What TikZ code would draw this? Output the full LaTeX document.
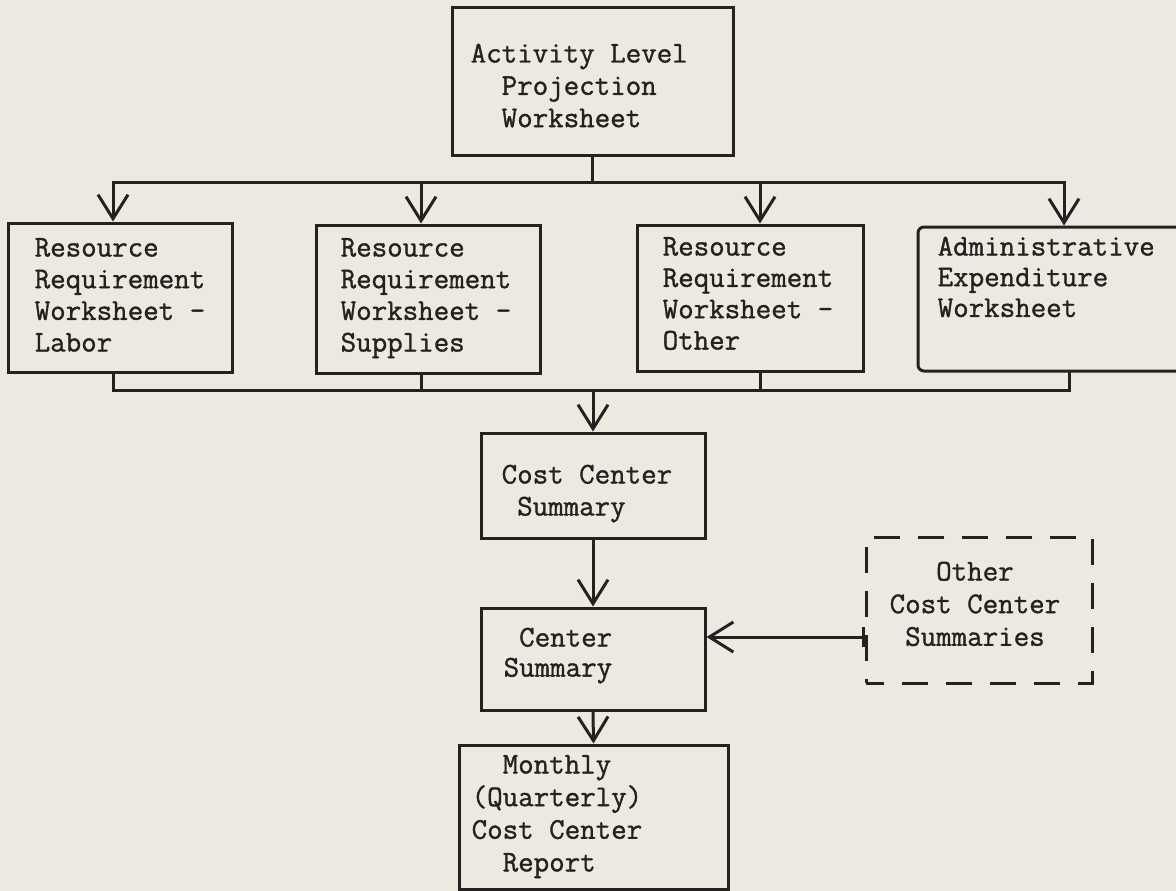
\documentclass[tikz,border=0pt]{standalone}
\usepackage{fontspec}
\newfontfamily\typewriter{Latin Modern Mono}[RawFeature={embolden=1.2}]
\usetikzlibrary{arrows.meta}
\definecolor{paper}{RGB}{236,234,224}
\definecolor{ink}{RGB}{36,34,32}
% stacked lines of a box label; baseline = first line
\newcommand\boxlines[2][1]{\renewcommand\arraystretch{#1}\begin{tabular}[t]{@{}l@{}}#2\end{tabular}}
\newcommand\pad[1]{\hphantom{#1}}

\begin{document}
\begin{tikzpicture}[x=1pt,y=-1pt,
  box/.style={draw=ink, line width=3pt, rectangle, inner sep=0pt},
  dashbox/.style={box, dash pattern=on 26pt off 18pt, dash phase=8pt},
  txt/.style={inner sep=0pt, anchor=base west, text=ink,
    font=\typewriter\fontsize{30.1}{32}\selectfont},
  link/.style={draw=ink, line width=3pt, line cap=rect},
  arr/.style={draw=ink, line width=3pt, -{Straight Barb[length=24pt,width=30pt]}}]

\fill[paper] (0,0) rectangle (1176,891);
\useasboundingbox (0,0) rectangle (1176,891);

% boxes
\node[box, minimum width=281pt, minimum height=147pt] (apw) at (592.5,81.5) {};
\node[box, minimum width=224pt, minimum height=149pt] (labor) at (120,297.5) {};
\node[box, minimum width=224pt, minimum height=148pt] (supplies) at (428,299) {};
\node[box, minimum width=226pt, minimum height=146pt] (other) at (750,298) {};
\node[box, minimum width=277pt, minimum height=144pt, rounded corners=6pt] (admin) at (1056.5,299) {};
\node[box, minimum width=224pt, minimum height=105pt] (ccs) at (593,485.5) {};
\node[box, minimum width=224pt, minimum height=102pt] (cs) at (593,659) {};
\node[box, minimum width=269pt, minimum height=144pt] (report) at (593.5,817) {};
\node[dashbox, minimum width=226pt, minimum height=146pt] (others) at (979,610) {};

% box texts
\node[txt] (apw-t) at ([shift={(20,56)}]apw.north west)
  {\boxlines[1.01]{Activity Level\\\pad{xx}Projection\\\pad{xx}Worksheet}};
\node[txt] (labor-t) at ([shift={(28,35)}]labor.north west)
  {\boxlines[0.99]{Resource\\Requirement\\Worksheet -\\Labor}};
\node[txt] (supplies-t) at ([shift={(26,33)}]supplies.north west)
  {\boxlines[0.99]{Resource\\Requirement\\Worksheet -\\Supplies}};
\node[txt] (other-t) at ([shift={(27,32)}]other.north west)
  {\boxlines[0.98]{Resource\\Requirement\\Worksheet -\\Other}};
\node[txt] (admin-t) at ([shift={(21,30)}]admin.north west)
  {\boxlines[0.96]{Administrative\\Expenditure\\Worksheet}};
\node[txt] (ccs-t) at ([shift={(22,52)}]ccs.north west)
  {\boxlines[1.0]{Cost Center\\\pad{x}Summary}};
\node[txt] (cs-t) at ([shift={(24,40)}]cs.north west)
  {\boxlines[0.94]{\pad{x}Center\\Summary}};
\node[txt] (report-t) at ([shift={(14,30)}]report.north west)
  {\boxlines[1.02]{\pad{xx}Monthly\\(Quarterly)\\Cost Center\\\pad{xx}Report}};
\node[txt] (others-t) at ([shift={(25,45)}]others.north west)
  {\boxlines[1.02]{\pad{xxx}Other\\Cost Center\\\pad{x}Summaries}};

% bus lines and drop columns
\coordinate (busA) at (0,182);
\coordinate (busB) at (0,390);
\coordinate (c1) at (113,0);
\coordinate (c2) at (421,0);
\coordinate (c3) at (760,0);
\coordinate (c4) at (1064,0);
\coordinate (d1) at (113,0);
\coordinate (d2) at (421,0);
\coordinate (d3) at (760,0);
\coordinate (d4) at (1069,0);

% distribution from the projection worksheet
\draw[link] (apw.south) -- (apw.south |- busA);
\draw[link] (c1 |- busA) -- (c4 |- busA);
\foreach \c/\b in {c1/labor, c2/supplies, c3/other, c4/admin}
  \draw[arr] (\c |- busA) -- (\c |- \b.north);

% collection into the cost center summary
\foreach \c/\b in {d1/labor, d2/supplies, d3/other, d4/admin}
  \draw[link] (\c |- \b.south) -- (\c |- busB);
\draw[link] (d1 |- busB) -- (d4 |- busB);
\draw[arr] (ccs.north |- busB) -- (ccs.north);

\draw[arr] (ccs.south) -- (cs.north);
\draw[arr] (cs.south) -- (report.north);

% feed from the other summaries
\coordinate (feed) at ([shift={(0,27)}]others.west);
\draw[draw=ink, line width=3pt, {Bar[width=20pt]}-{Straight Barb[length=24pt,width=30pt]}]
  (feed) -- (feed -| cs.east);
\end{tikzpicture}
\end{document}
